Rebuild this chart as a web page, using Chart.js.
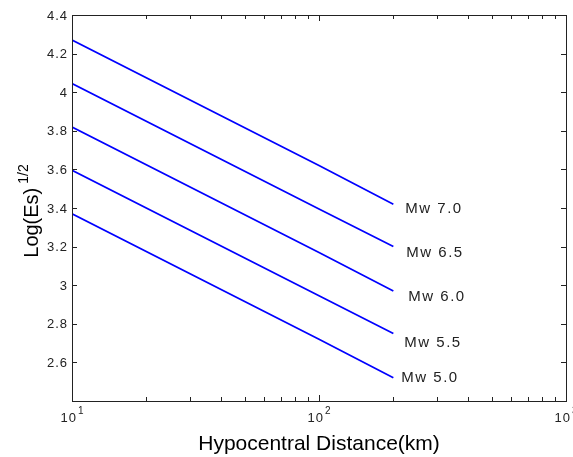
<!DOCTYPE html>
<html>
<head>
<meta charset="utf-8">
<script src="https://cdn.jsdelivr.net/npm/chart.js@4"></script>
<style>
  html, body { margin: 0; padding: 0; background: #fff; }
  #wrap { width: 573px; height: 457px; }
</style>
</head>
<body>
<div id="wrap"><canvas id="chart" width="573" height="457"></canvas></div>
<script>
// distances (km) where values were read
const distances = [10, 100, 200];
const mw50 = [3.37, 2.72, 2.52];
const mw55 = [3.595, 2.945, 2.75];
const mw60 = [3.82, 3.17, 2.97];
const mw65 = [4.045, 3.395, 3.20];
const mw70 = [4.27, 3.62, 3.42];
const seriesNames = ["Mw 5.0", "Mw 5.5", "Mw 6.0", "Mw 6.5", "Mw 7.0"];
const yTicks = [2.6, 2.8, 3, 3.2, 3.4, 3.6, 3.8, 4, 4.2, 4.4];
const xMajor = [10, 100, 1000];

// label placement relative to line end (px)
const labelDx = [8, 11, 15, 13, 12];
const labelDy = [0, 9, 6, 6, 5];

const FONT = '"Liberation Sans", Arial, sans-serif';

const toPts = (arr) => arr.map((v, i) => ({ x: distances[i], y: v }));
const allSeries = [mw50, mw55, mw60, mw65, mw70];

const datasets = allSeries.map((s, i) => ({
  label: seriesNames[i],
  data: toPts(s),
  borderColor: "#0000ff",
  borderWidth: 1.7,
  pointRadius: 0,
  fill: false,
  tension: 0,
}));

const matlabAxes = {
  id: "matlabAxes",
  afterDraw(chart) {
    const ctx = chart.ctx;
    const xs = chart.scales.x;
    const ys = chart.scales.y;
    const a = chart.chartArea;
    ctx.save();

    // frame
    ctx.strokeStyle = "#222";
    ctx.lineWidth = 1;
    ctx.strokeRect(Math.round(a.left) + 0.5, Math.round(a.top) + 0.5,
      Math.round(a.right - a.left), Math.round(a.bottom - a.top));

    // x ticks (log, major + minor), inward top & bottom
    ctx.beginPath();
    for (let dec = 10; dec < 1000; dec *= 10) {
      for (let m = 1; m <= 10; m++) {
        const v = dec * m;
        const px = Math.round(xs.getPixelForValue(v)) + 0.5;
        const len = (m === 1 || m === 10) ? 6 : 4;
        ctx.moveTo(px, a.bottom);
        ctx.lineTo(px, a.bottom - len);
        ctx.moveTo(px, a.top);
        ctx.lineTo(px, a.top + len);
      }
    }
    // y ticks, inward left & right
    yTicks.forEach((v) => {
      const py = Math.round(ys.getPixelForValue(v)) + 0.5;
      ctx.moveTo(a.left, py);
      ctx.lineTo(a.left + 5, py);
      ctx.moveTo(a.right, py);
      ctx.lineTo(a.right - 5, py);
    });
    ctx.stroke();

    // y tick labels
    ctx.fillStyle = "#222";
    ctx.font = "13px " + FONT;
    ctx.letterSpacing = "1px";
    ctx.textAlign = "right";
    ctx.textBaseline = "middle";
    yTicks.forEach((v) => {
      ctx.fillText(String(v), a.left - 4, ys.getPixelForValue(v) + 1);
    });

    // x tick labels 10^n
    xMajor.forEach((v) => {
      const px = xs.getPixelForValue(v);
      const exp = String(Math.round(Math.log10(v)));
      ctx.font = "13px " + FONT;
      const w1 = ctx.measureText("10").width;
      ctx.font = "10px " + FONT;
      const w2 = ctx.measureText(exp).width;
      const x0 = px - (w1 + w2) / 2;
      ctx.textAlign = "left";
      ctx.textBaseline = "alphabetic";
      ctx.font = "13px " + FONT;
      ctx.fillText("10", x0, 422);
      ctx.font = "10px " + FONT;
      ctx.fillText(exp, x0 + w1 + 1, 414);
    });

    // series labels at line ends
    ctx.fillStyle = "#222";
    ctx.font = "15px " + FONT;
    ctx.letterSpacing = "1.5px";
    ctx.textAlign = "left";
    ctx.textBaseline = "middle";
    chart.data.datasets.forEach((ds, i) => {
      const last = ds.data[ds.data.length - 1];
      const px = xs.getPixelForValue(last.x);
      const py = ys.getPixelForValue(last.y);
      ctx.fillText(ds.label, px + labelDx[i], py + labelDy[i]);
    });
    ctx.letterSpacing = "0px";

    // x axis title
    ctx.fillStyle = "#000";
    ctx.font = "21px " + FONT;
    ctx.textAlign = "center";
    ctx.textBaseline = "alphabetic";
    ctx.fillText("Hypocentral Distance(km)", (a.left + a.right) / 2, 450);

    // y axis title with superscript
    ctx.translate(38, 211);
    ctx.rotate(-Math.PI / 2);
    ctx.font = "20px " + FONT;
    const t1 = "Log(Es)";
    const w1 = ctx.measureText(t1).width;
    ctx.font = "14px " + FONT;
    const t2 = "1/2";
    const w2 = ctx.measureText(t2).width;
    const gap = 4;
    const x0 = -(w1 + w2 + gap) / 2;
    ctx.textAlign = "left";
    ctx.font = "20px " + FONT;
    ctx.fillText(t1, x0, 0);
    ctx.font = "14px " + FONT;
    ctx.fillText(t2, x0 + w1 + gap, -10);

    ctx.restore();
  },
};

new Chart("chart", {
  type: "line",
  data: { datasets: datasets },
  options: {
    responsive: false,
    animation: false,
    layout: { padding: { left: 72, top: 15, right: 7, bottom: 56 } },
    plugins: { legend: { display: false }, tooltip: { enabled: false } },
    scales: {
      x: {
        type: "logarithmic",
        min: 10,
        max: 1000,
        display: false,
      },
      y: {
        type: "linear",
        min: 2.4,
        max: 4.4,
        display: false,
      },
    },
  },
  plugins: [matlabAxes],
});
</script>
</body>
</html>
